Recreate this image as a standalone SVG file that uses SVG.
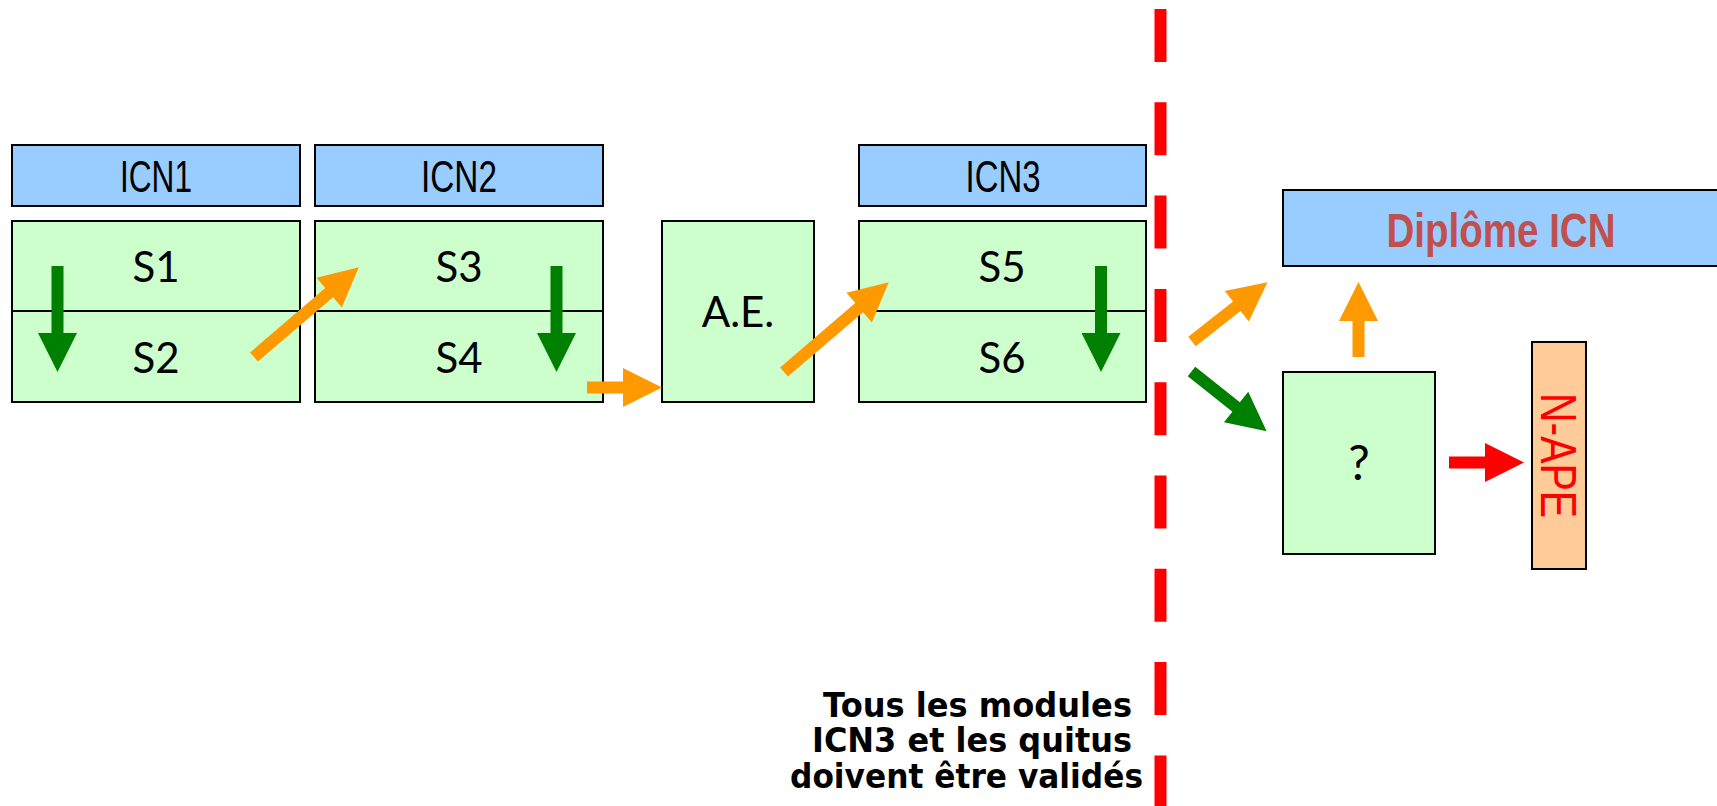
<svg xmlns="http://www.w3.org/2000/svg" width="1717" height="806" viewBox="0 0 1717 806">
<style>
.blue{fill:#99CCFF;stroke:#000;stroke-width:2}
.green{fill:#CCFFCC;stroke:#000;stroke-width:2}
.peach{fill:#FFCC99;stroke:#000;stroke-width:2}
.icn{font-family:"Liberation Sans Narrow","Liberation Sans",sans-serif;font-size:45px;fill:#000;text-anchor:middle}
.s{font-family:Lato,"Open Sans",sans-serif;font-size:42px;fill:#000;text-anchor:middle}
.note{font-family:"DejaVu Sans",sans-serif;font-weight:bold;font-size:33px;fill:#000;text-anchor:end}
.or{fill:#FF9900}
.gr{fill:#008000}
.rd{fill:#FF0000}
</style>
<defs>
<polygon id="a75" points="0,-6 36,-6 36,-19.5 75,0 36,19.5 36,6 0,6"/>
<polygon id="a96" points="0,-6 57,-6 57,-19.5 96,0 57,19.5 57,6 0,6"/>
<polygon id="a106" points="0,-6 67,-6 67,-19.5 106,0 67,19.5 67,6 0,6"/>
<polygon id="a138" points="0,-6 99,-6 99,-19.5 138,0 99,19.5 99,6 0,6"/>
</defs>

<g id="icn1">
<rect class="blue" x="12" y="145" width="288" height="61"/>
<text class="icn" x="156" y="192" textLength="72" lengthAdjust="spacingAndGlyphs">ICN1</text>
</g>
<g id="icn2">
<rect class="blue" x="315" y="145" width="288" height="61"/>
<text class="icn" x="459" y="192" textLength="76" lengthAdjust="spacingAndGlyphs">ICN2</text>
</g>
<g id="icn3">
<rect class="blue" x="859" y="145" width="287" height="61"/>
<text class="icn" x="1003" y="192" textLength="75" lengthAdjust="spacingAndGlyphs">ICN3</text>
</g>

<g id="s1">
<rect class="green" x="12" y="221" width="288" height="90"/>
<text class="s" x="156" y="282">S1</text>
</g>
<g id="s2">
<rect class="green" x="12" y="311" width="288" height="91"/>
<text class="s" x="156" y="373">S2</text>
</g>
<g id="s3">
<rect class="green" x="315" y="221" width="288" height="90"/>
<text class="s" x="459" y="282">S3</text>
</g>
<g id="s4">
<rect class="green" x="315" y="311" width="288" height="91"/>
<text class="s" x="459" y="373">S4</text>
</g>
<g id="ae">
<rect class="green" x="662" y="221" width="152" height="181"/>
<text class="s" x="738" y="327">A.E.</text>
</g>
<g id="s5">
<rect class="green" x="859" y="221" width="287" height="90"/>
<text class="s" x="1002" y="282">S5</text>
</g>
<g id="s6">
<rect class="green" x="859" y="311" width="287" height="91"/>
<text class="s" x="1002" y="373">S6</text>
</g>

<g id="diplome">
<rect class="blue" x="1283" y="190" width="440" height="76"/>
<text x="1501" y="247" font-family="'Liberation Sans Narrow','Liberation Sans',sans-serif" font-weight="bold" font-size="48" fill="#C0504D" text-anchor="middle" textLength="229" lengthAdjust="spacingAndGlyphs">Diplôme ICN</text>
</g>
<g id="question">
<rect class="green" x="1283" y="372" width="152" height="182"/>
<text class="s" x="1359" y="480" style="font-size:48px">?</text>
</g>
<g id="nape">
<rect class="peach" x="1532" y="342" width="54" height="227"/>
<text transform="translate(1541,455.5) rotate(90)" x="0" y="0" font-family="'Liberation Sans Narrow','Liberation Sans',sans-serif" font-size="50" fill="#FF0000" text-anchor="middle" textLength="125" lengthAdjust="spacingAndGlyphs">N-APE</text>
</g>

<g id="separator">
<line x1="1160.5" y1="9" x2="1160.5" y2="806" stroke="#FF0000" stroke-width="12" stroke-dasharray="53 40.3"/>
</g>

<g id="note">
<text class="note" x="1132" y="717" textLength="309" lengthAdjust="spacingAndGlyphs">Tous les modules</text>
<text class="note" x="1132" y="752" textLength="320" lengthAdjust="spacingAndGlyphs">ICN3 et les quitus</text>
<text class="note" x="1143" y="788" textLength="353" lengthAdjust="spacingAndGlyphs">doivent être validés</text>
</g>

<g id="connectors">
<use href="#a106" class="gr" transform="translate(57.5,266) rotate(90)"/>
<use href="#a106" class="gr" transform="translate(556.5,266) rotate(90)"/>
<use href="#a106" class="gr" transform="translate(1101,266) rotate(90)"/>
<use href="#a138" class="or" transform="translate(254,357) rotate(-40.6)"/>
<use href="#a138" class="or" transform="translate(784,372) rotate(-40.6)"/>
<use href="#a75" class="or" transform="translate(587,387.5)"/>
<use href="#a96" class="or" transform="translate(1192,341.5) rotate(-38.2)"/>
<use href="#a96" class="gr" transform="translate(1191.5,371.5) rotate(38.5)"/>
<use href="#a75" class="or" transform="translate(1358.5,357) rotate(-90)"/>
<use href="#a75" class="rd" transform="translate(1449,462.5)"/>
</g>
</svg>
